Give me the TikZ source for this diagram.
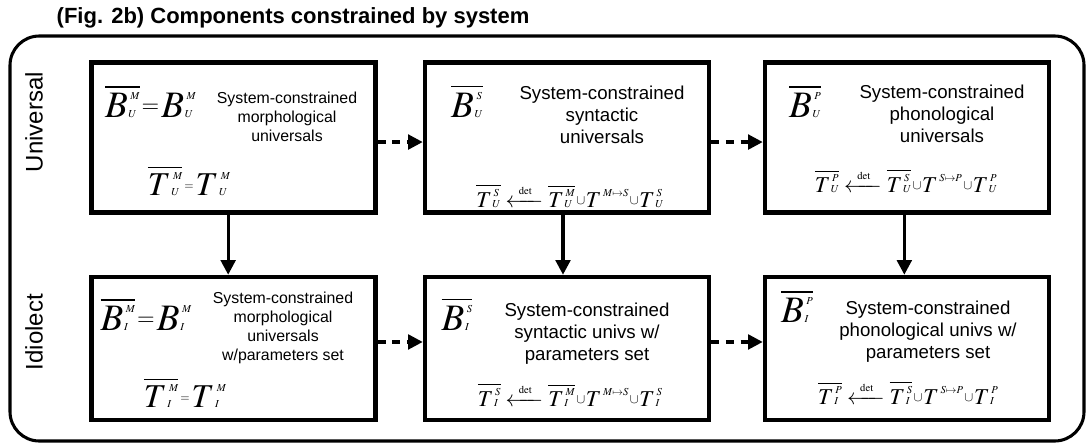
\documentclass[tikz,border=0pt]{standalone}
\usepackage{amsmath}
\usepackage{mathptmx}
\usepackage[no-math]{fontspec}
\setmainfont{Liberation Sans}
\usetikzlibrary{arrows.meta}
\DeclareMathSizes{28}{28}{8}{6}
\DeclareMathSizes{25}{25}{8}{6}
\DeclareMathSizes{17}{17}{8}{6}
% letter with stacked upper and lower index
\newcommand{\tn}[3]{#1\kern0.5pt\mbox{\setbox0\hbox{\kern0.05em$\scriptstyle#2$}\setbox2\hbox{$\scriptstyle#3$}%
  \ifdim\wd0>\wd2 \wd2=\wd0\fi\rlap{\raise0.48em\box0}\box2}}
\newcommand{\smeq}[2]{\kern1.5pt\raisebox{#2}{\fontsize{#1}{#1}\selectfont$=$}\kern1.5pt}
\newcommand{\smcup}{\kern1pt\raisebox{2pt}{\fontsize{10}{10}\selectfont$\cup$}\kern0.5pt}
\newcommand{\detarrow}{\xleftarrow{\makebox[22pt]{$\scriptstyle\mathrm{det}$}}}
\tikzset{
  sysbox/.style={draw, line width=3.4pt, inner sep=0pt, minimum width=213pt, minimum height=#1},
  smalltxt/.style={align=center, inner sep=0pt, font=\fontsize{11.9}{14.4}\selectfont},
  bigtxt/.style={align=center, inner sep=0pt, font=\fontsize{14}{16.4}\selectfont},
  bigB/.style={anchor=base, inner sep=0pt, font=\fontsize{28}{30}\selectfont},
  midT/.style={anchor=base, inner sep=0pt, font=\fontsize{25}{27}\selectfont},
  detT/.style={anchor=base, inner sep=0pt, font=\fontsize{17}{19}\selectfont},
  rowlabel/.style={rotate=90, font=\fontsize{18}{20}\selectfont},
  flow/.style={line width=2.4pt, -{Triangle[length=11pt,width=11pt]}},
  param/.style={flow, dash pattern=on 6pt off 5pt}
}
\begin{document}
\begin{tikzpicture}[x=0.75pt, y=-0.75pt]
    \useasboundingbox (0,0) rectangle (1089,447);
    \node[anchor=base west, font=\bfseries\fontsize{16.5}{18}\selectfont] (title) at (52,23) {(Fig. 2b) Components constrained by system};
    \draw[line width=2.3pt, rounded corners=22pt] (10,36) rectangle (1084,441);
    \node[rowlabel] (uni) at (34,122) {Universal};
    \node[rowlabel] (idio) at (34,332) {Idiolect};
    \foreach \nm/\cx/\cy/\h in {mu/233.5/137.5/112.5pt, su/567/137.5/112.5pt, pu/907/137.5/112.5pt,
                                mi/233.5/348.5/107.25pt, si/567/348.5/107.25pt, pi/907/348.5/107.25pt} {
        \node[sysbox=\h] (\nm) at (\cx,\cy) {};
    }
    % universal row
    \node[bigB] (mub) at (150.5,117) {$\overline{\tn{B}{M}{U}}\smeq{17}{3.7pt}\tn{B}{M}{U}$};
    \node[smalltxt] (mut) at (287,117) {System-constrained\\morphological\\universals};
    \node[midT] (muf) at (189,195) {$\overline{\tn{T}{M}{U}}\smeq{9}{3.8pt}\tn{T}{M}{U}$};
    \node[bigB] (sub) at (467,117) {$\overline{\tn{B}{S}{U}}$};
    \node[bigtxt] (sut) at (602,115) {System-constrained\\syntactic\\universals};
    \node[detT] (suf) at (570,207) {$\overline{\tn{T}{S}{U}}\detarrow\overline{\tn{T}{M}{U}}\smcup\tn{T}{M\mapsto S}{}\smcup\tn{T}{S}{U}$};
    \node[bigB] (pub) at (805,117) {$\overline{\tn{B}{P}{U}}$};
    \node[bigtxt] (put) at (942,114) {System-constrained\\phonological\\universals};
    \node[detT] (puf) at (906,192) {$\overline{\tn{T}{P}{U}}\detarrow\overline{\tn{T}{S}{U}}\smcup\tn{T}{S\mapsto P}{}\smcup\tn{T}{P}{U}$};
    % idiolect row
    \node[bigB] (mib) at (146,330) {$\overline{\tn{B}{M}{I}}\smeq{17}{3.7pt}\tn{B}{M}{I}$};
    \node[smalltxt] (mit) at (283,328) {System-constrained\\morphological\\universals\\w/parameters set};
    \node[midT] (mif) at (185,407) {$\overline{\tn{T}{M}{I}}\smeq{9}{3.8pt}\tn{T}{M}{I}$};
    \node[bigB] (sib) at (457,330) {$\overline{\tn{B}{S}{I}}$};
    \node[bigtxt] (sit) at (587,334) {System-constrained\\syntactic univs w/\\parameters set};
    \node[detT] (sif) at (570,406) {$\overline{\tn{T}{S}{I}}\detarrow\overline{\tn{T}{M}{I}}\smcup\tn{T}{M\mapsto S}{}\smcup\tn{T}{S}{I}$};
    \node[bigB] (pib) at (797,322) {$\overline{\tn{B}{P}{I}}$};
    \node[bigtxt] (pit) at (928,332) {System-constrained\\phonological univs w/\\parameters set};
    \node[detT] (pif) at (908,404) {$\overline{\tn{T}{P}{I}}\detarrow\overline{\tn{T}{S}{I}}\smcup\tn{T}{S\mapsto P}{}\smcup\tn{T}{P}{I}$};
    \foreach \a/\b/\dx in {mu/mi/-4pt, su/si/-3pt, pu/pi/-2pt} {
        \draw[flow] ([xshift=\dx]\a.south) -- ([xshift=\dx]\b.north);
    }
    \foreach \a/\b/\dy in {mu/su/-3.4pt, su/pu/-3.4pt, mi/si/4.9pt, si/pi/4.9pt} {
        \draw[param] ([yshift=\dy]\a.east) -- ([yshift=\dy]\b.west);
    }
\end{tikzpicture}
\end{document}
